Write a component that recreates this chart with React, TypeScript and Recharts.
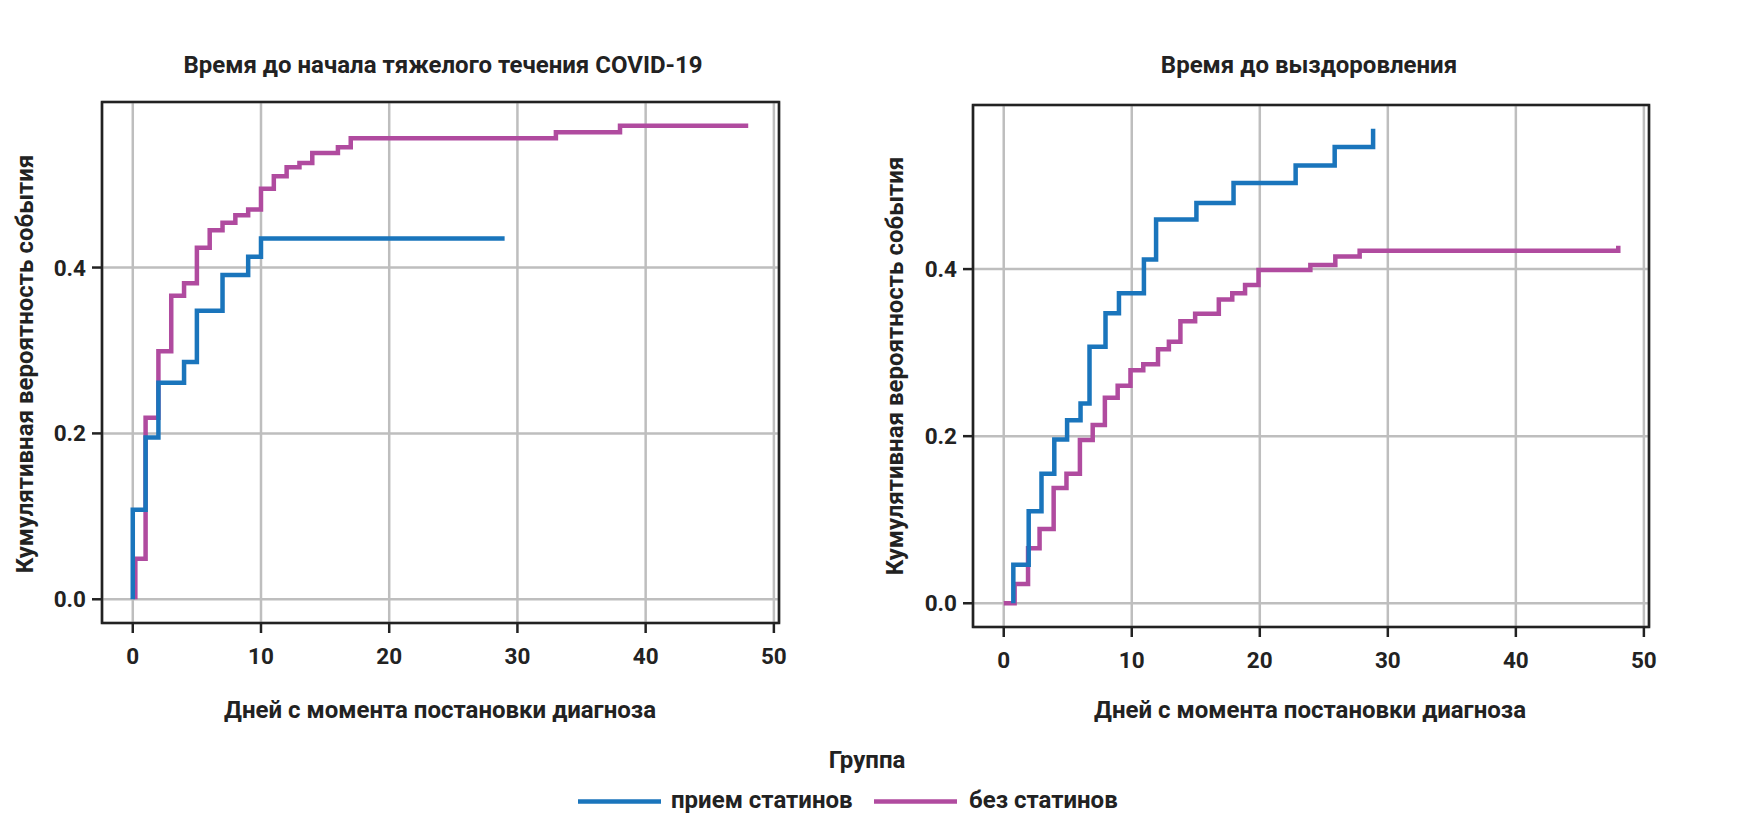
import React from "react";
import { LineChart, Line, XAxis, YAxis, CartesianGrid, ReferenceArea } from "recharts";

// ---- Data ----
const xTicks = [0, 10, 20, 30, 40, 50];
const yTicks = [0, 0.2, 0.4];
const xDomain: [number, number] = [-2.4, 50.4];

// Left panel: time to severe COVID-19
const severeStatinT = [0, 0, 1, 2, 4, 5, 7, 9, 10, 29];
const severeStatinV = [0, 0.108, 0.195, 0.261, 0.286, 0.348, 0.391, 0.413, 0.435, 0.435];
const severeNoStatinT = [0.2, 0.2, 1, 2, 3, 4, 5, 6, 7, 8, 9, 10, 11, 12, 13, 14, 16, 17, 33, 38, 48];
const severeNoStatinV = [0, 0.049, 0.219, 0.299, 0.366, 0.381, 0.424, 0.445, 0.454, 0.463, 0.47, 0.495, 0.51, 0.521, 0.526, 0.538, 0.545, 0.556, 0.563, 0.571, 0.571];

// Right panel: time to recovery
const recovStatinT = [0.75, 0.75, 1.95, 2.95, 3.95, 4.95, 6.0, 6.7, 7.95, 9.0, 10.95, 11.9, 15.05, 17.95, 22.8, 25.85, 28.85];
const recovStatinV = [0, 0.046, 0.11, 0.155, 0.196, 0.219, 0.239, 0.307, 0.347, 0.371, 0.4115, 0.4595, 0.479, 0.503, 0.524, 0.546, 0.568];
const recovNoStatinT = [0, 0.85, 1.9, 2.8, 3.9, 4.9, 5.95, 6.95, 7.9, 8.9, 9.9, 10.9, 12.05, 12.9, 13.8, 14.95, 16.8, 17.85, 18.85, 19.9, 23.95, 25.9, 27.8, 48, 48];
const recovNoStatinV = [0, 0.023, 0.066, 0.089, 0.138, 0.155, 0.1955, 0.2135, 0.246, 0.2605, 0.279, 0.286, 0.304, 0.313, 0.3375, 0.3465, 0.3636, 0.371, 0.381, 0.399, 0.405, 0.415, 0.422, 0.422, 0.428];

const groupNames = ["прием статинов", "без статинов"];
const titles = ["Время до начала тяжелого течения COVID-19", "Время до выздоровления"];
const xLabel = "Дней с момента постановки диагноза";
const yLabel = "Кумулятивная вероятность события";
const legendTitle = "Группа";

const BLUE = "#1A75BC";
const MAGENTA = "#B04B9F";
const TEXT = "#222222";
const GRID = "#BEBEBE";
const FONT = "Roboto, 'DejaVu Sans', sans-serif";

const toData = (t: number[], v: number[]) => t.map((x, i) => ({ x, y: v[i] }));

const tickStyle = { fontSize: 22.5, fontWeight: 700, fill: TEXT, fontFamily: FONT };

type PanelProps = {
  left: number;
  width: number;
  top: number;
  plotBottom: number;
  yAxisWidth: number;
  marginRight: number;
  yDomain: [number, number];
  statin: { x: number; y: number }[];
  noStatin: { x: number; y: number }[];
};

const CH = 760;
const XAH = 60;

function Panel(p: PanelProps) {
  return (
    <div style={{ position: "absolute", left: p.left, top: 0 }}>
      <LineChart
        width={p.width}
        height={CH}
        margin={{ top: p.top, right: p.marginRight, left: 0, bottom: CH - p.plotBottom - XAH }}
      >
        <CartesianGrid stroke={GRID} strokeWidth={2.5} />
        <XAxis
          dataKey="x"
          type="number"
          domain={xDomain}
          ticks={xTicks}
          allowDataOverflow
          height={XAH}
          axisLine={false}
          tickSize={10}
          tickMargin={15}
          tickLine={{ stroke: TEXT, strokeWidth: 2.5 }}
          tick={tickStyle}
        />
        <YAxis
          type="number"
          domain={p.yDomain}
          ticks={yTicks}
          allowDataOverflow
          width={p.yAxisWidth}
          axisLine={false}
          tickSize={10}
          tickMargin={6}
          tickLine={{ stroke: TEXT, strokeWidth: 2.5 }}
          tick={tickStyle}
          tickFormatter={(v: number) => v.toFixed(1)}
        />
        <Line
          data={p.noStatin}
          dataKey="y"
          type="stepAfter"
          stroke={MAGENTA}
          strokeWidth={4.5}
          dot={false}
          activeDot={false}
          isAnimationActive={false}
        />
        <Line
          data={p.statin}
          dataKey="y"
          type="stepAfter"
          stroke={BLUE}
          strokeWidth={4.5}
          dot={false}
          activeDot={false}
          isAnimationActive={false}
        />
        <ReferenceArea
          x1={xDomain[0]}
          x2={xDomain[1]}
          y1={p.yDomain[0]}
          y2={p.yDomain[1]}
          fill="none"
          fillOpacity={0}
          stroke={TEXT}
          strokeWidth={2.6}
          ifOverflow="visible"
        />
      </LineChart>
    </div>
  );
}

export default function App() {
  return (
    <div style={{ position: "absolute", left: 0, top: 0, width: 1745, height: 817, background: "#fff", overflow: "hidden" }}>
      <Panel
        left={0}
        width={880}
        top={102}
        plotBottom={623}
        yAxisWidth={102}
        marginRight={101}
        yDomain={[-0.0286, 0.5996]}
        statin={toData(severeStatinT, severeStatinV)}
        noStatin={toData(severeNoStatinT, severeNoStatinV)}
      />
      <Panel
        left={870}
        width={875}
        top={105}
        plotBottom={627}
        yAxisWidth={103}
        marginRight={96}
        yDomain={[-0.0284, 0.5964]}
        statin={toData(recovStatinT, recovStatinV)}
        noStatin={toData(recovNoStatinT, recovNoStatinV)}
      />
      <svg
        width={1745}
        height={817}
        style={{ position: "absolute", left: 0, top: 0, pointerEvents: "none" }}
        fontFamily={FONT}
        fontWeight={700}
        fill={TEXT}
      >
        <text x={443} y={73} textAnchor="middle" fontSize={24}>{titles[0]}</text>
        <text x={1309} y={73} textAnchor="middle" fontSize={24}>{titles[1]}</text>
        <text x={440} y={718} textAnchor="middle" fontSize={24}>{xLabel}</text>
        <text x={1310} y={718} textAnchor="middle" fontSize={24}>{xLabel}</text>
        <text x={33} y={364} textAnchor="middle" fontSize={24} transform="rotate(-90 33 364)">{yLabel}</text>
        <text x={903} y={366} textAnchor="middle" fontSize={24} transform="rotate(-90 903 366)">{yLabel}</text>
        <text x={867} y={768} textAnchor="middle" fontSize={24}>{legendTitle}</text>
        <line x1={578} x2={661} y1={801.5} y2={801.5} stroke={BLUE} strokeWidth={4.5} />
        <text x={671} y={808} fontSize={24}>{groupNames[0]}</text>
        <line x1={874} x2={957} y1={801.5} y2={801.5} stroke={MAGENTA} strokeWidth={4.5} />
        <text x={969} y={808} fontSize={24}>{groupNames[1]}</text>
      </svg>
    </div>
  );
}
